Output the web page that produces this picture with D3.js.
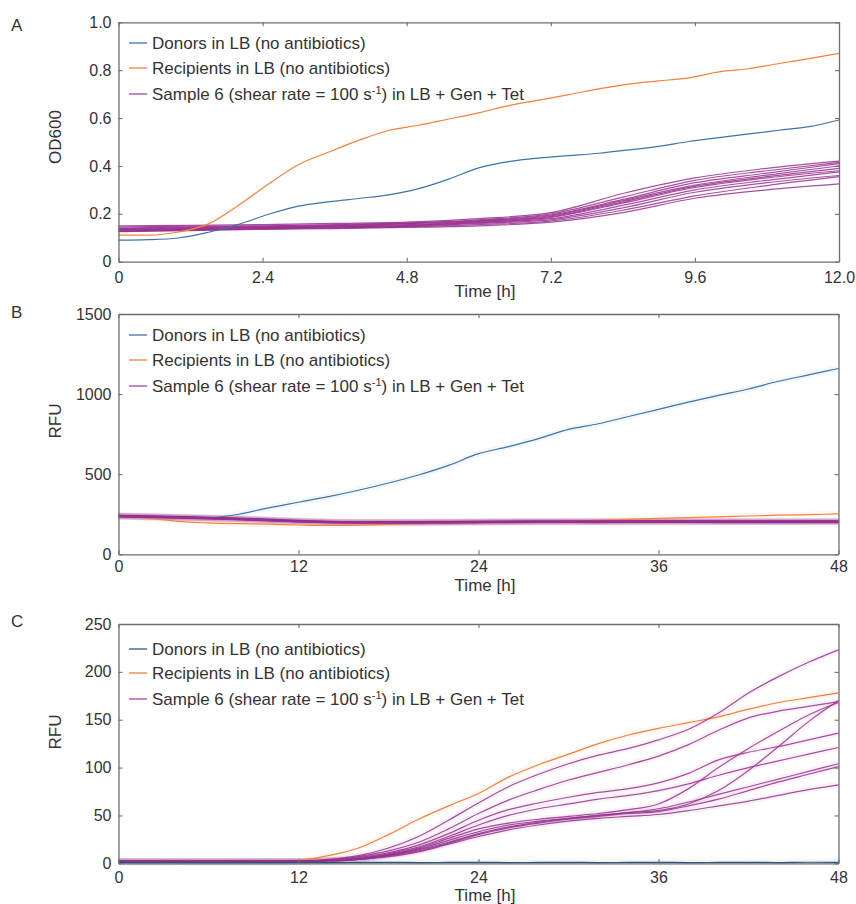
<!DOCTYPE html>
<html>
<head>
<meta charset="utf-8">
<script src="https://cdn.jsdelivr.net/npm/d3@7"></script>
<style>
  body { margin: 0; background: #fff; }
  svg { display: block; font-family: "Liberation Sans", Arial, Helvetica, sans-serif; }
</style>
</head>
<body>
<svg id="chart" width="856" height="904"></svg>
<script>
// ---------- Panel A: OD600 over 12 h ----------
const timeA = [0,0.5,1,1.5,2,2.5,3,3.5,4,4.5,5,5.5,6,6.5,7,7.5,8,8.5,9,9.5,10,10.5,11,11.5,12];
const donorsA = [0.090,0.092,0.099,0.123,0.156,0.198,0.232,0.250,0.264,0.279,0.305,0.345,0.392,0.418,0.433,0.443,0.453,0.467,0.482,0.502,0.518,0.534,0.549,0.564,0.592];
const recipientsA = [0.111,0.111,0.124,0.158,0.236,0.325,0.406,0.458,0.507,0.548,0.570,0.596,0.622,0.652,0.675,0.698,0.722,0.742,0.755,0.768,0.793,0.806,0.828,0.848,0.870];
const sampleTimeA = [0,1.2,2.4,3.6,4.8,6,7.2,8.4,9.6,10.8,12];
const samplesA = [
  [0.150,0.152,0.155,0.160,0.165,0.180,0.205,0.285,0.350,0.390,0.420],
  [0.145,0.148,0.150,0.155,0.162,0.175,0.200,0.270,0.340,0.380,0.415],
  [0.140,0.145,0.148,0.152,0.160,0.172,0.195,0.260,0.330,0.370,0.410],
  [0.138,0.142,0.146,0.150,0.158,0.170,0.192,0.255,0.320,0.362,0.400],
  [0.135,0.140,0.143,0.148,0.155,0.168,0.188,0.250,0.315,0.355,0.390],
  [0.133,0.138,0.142,0.146,0.152,0.165,0.185,0.245,0.310,0.350,0.380],
  [0.130,0.136,0.140,0.145,0.150,0.163,0.180,0.235,0.300,0.340,0.375],
  [0.128,0.134,0.138,0.142,0.148,0.160,0.175,0.225,0.290,0.330,0.360],
  [0.127,0.132,0.137,0.141,0.146,0.155,0.170,0.215,0.275,0.318,0.355],
  [0.125,0.130,0.135,0.138,0.143,0.150,0.165,0.205,0.265,0.300,0.325]
];
const xTicksA = [0,2.4,4.8,7.2,9.6,12];
const yTicksA = [0,0.2,0.4,0.6,0.8,1.0];

// ---------- Panel B: RFU (donor channel) over 48 h ----------
const timeB = [0,2,4,6,8,10,12,14,16,18,20,22,24,26,28,30,32,34,36,38,40,42,44,46,48];
const donorsB = [238,235,230,228,250,290,325,360,400,445,495,555,628,672,722,780,815,860,905,950,992,1032,1080,1120,1160];
const recipientsB = [240,225,205,196,191,188,183,180,182,187,192,195,198,200,203,207,212,218,224,229,234,239,244,248,252];
const sampleTimeB = [0,4,8,12,16,20,24,28,32,36,40,44,48];
const samplesB = [
  [244,236,226,212,204,204,206,208,208,209,209,209,209],
  [242,235,224,210,203,203,205,207,207,208,208,208,208],
  [241,233,223,209,202,202,204,206,206,207,207,206,207],
  [240,232,222,208,201,201,203,205,205,206,206,205,206],
  [239,231,221,207,200,200,202,204,204,205,204,204,205],
  [238,230,220,206,199,199,201,203,203,204,203,203,204],
  [237,229,219,205,198,198,200,202,202,202,202,202,203],
  [236,228,218,204,197,197,199,201,201,201,201,201,201],
  [235,227,217,203,196,196,198,200,199,200,200,200,200],
  [234,226,216,202,195,195,197,199,198,199,198,198,198]
];
const xTicksB = [0,12,24,36,48];
const yTicksB = [0,500,1000,1500];

// ---------- Panel C: RFU (transconjugant channel) over 48 h ----------
const timeC = [0,2,4,6,8,10,12,14,16,18,20,22,24,26,28,30,32,34,36,38,40,42,44,46,48];
const donorsC = [1.0,0.8,1.0,0.7,0.9,0.8,1.0,0.8,0.9,1.0,0.8,0.9,1.0,0.8,0.9,1.0,0.8,0.9,1.0,0.8,0.9,1.0,0.8,1.1,1.0];
const recipientsC = [2,2,2,2,1.5,2,3,8,16,30,46,60,73,90,103,114,125,134,141,147,153,161,168,173,178];
const sampleTimeC = [0,4,8,12,14,16,18,20,22,24,26,28,30,32,34,36,38,40,42,44,46,48];
const samplesC = [
  [2.5,2.5,2.5,2.5,4,8,16,28,45,63,80,93,104,113,120,129,140,157,178,195,210,223],
  [2.5,2,2.5,2,3,7,13,22,36,52,66,77,87,95,103,112,124,139,152,159,164,169],
  [2,2.5,2,2,3,6,11,19,31,45,56,63,69,74,78,84,94,108,116,122,129,136],
  [2,2,2,2.5,3,5,10,17,28,40,50,57,62,67,71,76,83,92,100,107,114,121],
  [2.5,2,2,2,3,5,9,16,26,36,42,46,49,52,56,62,78,100,120,138,155,168],
  [2,2,2.5,2,3,5,9,15,24,33,40,44,47,50,53,55,62,76,97,122,148,170],
  [2,2.5,2,2,3,4,8,14,22,31,38,43,47,50,53,57,64,72,80,88,96,104],
  [2,2,2,2,3,4,8,13,21,30,37,42,46,49,52,54,60,67,76,85,93,101],
  [2,2,2,2.5,2,4,7,12,20,28,35,40,44,47,49,51,55,60,65,71,77,82]
];
const xTicksC = [0,12,24,36,48];
const yTicksC = [0,50,100,150,200,250];

const legendLabels = ["Donors in LB (no antibiotics)", "Recipients in LB (no antibiotics)"];

// ---------- drawing ----------
const svg = d3.select("#chart");
const COL = { donor: "#3e74a8", donorDark: "#2a5583", recip: "#f7803c", sample: "#98308f", sampleKey: "#a444a4" };
const frameColor = "#6e6e6e", textColor = "#333";

function drawPanel(cfg) {
  const g = svg.append("g");
  const x = d3.scaleLinear().domain(cfg.xDomain).range([cfg.left, cfg.right]);
  const y = d3.scaleLinear().domain(cfg.yDomain).range([cfg.bottom, cfg.top]);

  const line = (tArr) => d3.line()
    .x((d, i) => x(tArr[i]))
    .y(d => y(d))
    .curve(d3.curveMonotoneX);

  const data = g.append("g");
  // faint halo beneath the traces
  if (cfg.halo) {
    cfg.series.forEach(s => {
      s.values.forEach(v => {
        data.append("path").attr("d", line(s.time)(v))
          .attr("fill", "none").attr("stroke", s.color)
          .attr("stroke-width", 6).attr("stroke-opacity", 0.06)
          .attr("stroke-linejoin", "round");
      });
    });
  }
  cfg.series.forEach(s => {
    s.values.forEach(v => {
      data.append("path").attr("d", line(s.time)(v))
        .attr("fill", "none").attr("stroke", s.color)
        .attr("stroke-width", s.width || 1.2)
        .attr("stroke-opacity", s.opacity || 1)
        .attr("stroke-linejoin", "round");
    });
  });

  // axes: ticks point inward on all four sides
  const styleAxis = (sel) => {
    sel.attr("font-family", null).attr("font-size", null);
    sel.select(".domain").attr("stroke", frameColor).attr("stroke-width", 1.3);
    sel.selectAll(".tick line").attr("stroke", frameColor).attr("stroke-width", 1.1);
    sel.selectAll(".tick text").attr("fill", textColor).style("font-size", "16px");
  };
  g.append("g").attr("transform", `translate(0,${cfg.bottom})`)
    .call(d3.axisBottom(x).tickValues(cfg.xTicks).tickSize(-4).tickSizeOuter(0)
      .tickPadding(cfg.xPad).tickFormat(cfg.xFmt))
    .call(styleAxis);
  g.append("g").attr("transform", `translate(0,${cfg.top})`)
    .call(d3.axisTop(x).tickValues(cfg.xTicks).tickSize(-4).tickSizeOuter(0).tickFormat(""))
    .call(styleAxis);
  g.append("g").attr("transform", `translate(${cfg.left},0)`)
    .call(d3.axisLeft(y).tickValues(cfg.yTicks).tickSize(-4).tickSizeOuter(0)
      .tickPadding(7).tickFormat(cfg.yFmt))
    .call(styleAxis);
  g.append("g").attr("transform", `translate(${cfg.right},0)`)
    .call(d3.axisRight(y).tickValues(cfg.yTicks).tickSize(-4).tickSizeOuter(0).tickFormat(""))
    .call(styleAxis);

  // axis titles and panel letter
  g.append("text").attr("x", 485).attr("y", cfg.bottom + cfg.titleOff)
    .attr("text-anchor", "middle").attr("dominant-baseline", "central")
    .attr("fill", textColor).style("font-size", "17px").text("Time [h]");
  g.append("text").attr("transform", `translate(55,${cfg.yLabelY}) rotate(-90)`)
    .attr("text-anchor", "middle").attr("dominant-baseline", "central")
    .attr("fill", textColor).style("font-size", "17px").text(cfg.yLabel);
  g.append("text").attr("x", 11).attr("y", cfg.letterY)
    .attr("fill", textColor).style("font-size", "17px").text(cfg.letter);

  // legend
  const keyColors = [cfg.donorKey, COL.recip, COL.sampleKey];
  cfg.legendY.forEach((ly, i) => {
    g.append("line").attr("x1", 129).attr("x2", 147).attr("y1", ly).attr("y2", ly)
      .attr("stroke", keyColors[i]).attr("stroke-width", 1.3);
    const t = g.append("text").attr("x", 152).attr("y", ly + 6)
      .attr("fill", textColor).style("font-size", "17px");
    if (i < 2) {
      t.text(legendLabels[i]);
    } else {
      t.append("tspan").text("Sample 6 (shear rate = 100 s");
      t.append("tspan").attr("dy", -6).style("font-size", "11px").text("-1");
      t.append("tspan").attr("dy", 6).text(") in LB + Gen + Tet");
    }
  });
}

const intFmt = d3.format("d");

drawPanel({
  letter: "A", letterY: 31, yLabel: "OD600", yLabelY: 137,
  left: 118.5, right: 839, top: 22.3, bottom: 261.7,
  xDomain: [0, 12], yDomain: [0, 1.0],
  xTicks: xTicksA, yTicks: yTicksA,
  xFmt: d => d === 0 ? "0" : d3.format(".1f")(d),
  yFmt: d => d === 0 ? "0" : d3.format(".1f")(d),
  xPad: 10, titleOff: 30,
  legendY: [43, 68, 94], donorKey: COL.donor, halo: false,
  series: [
    { time: sampleTimeA, values: samplesA, color: COL.sample, opacity: 0.85, width: 1.2 },
    { time: timeA, values: [donorsA], color: COL.donor },
    { time: timeA, values: [recipientsA], color: COL.recip }
  ]
});

drawPanel({
  letter: "B", letterY: 318, yLabel: "RFU", yLabelY: 421,
  left: 118.5, right: 838.5, top: 314, bottom: 554.3,
  xDomain: [0, 48], yDomain: [0, 1500],
  xTicks: xTicksB, yTicks: yTicksB, xFmt: intFmt, yFmt: intFmt,
  xPad: 6, titleOff: 31,
  legendY: [335, 360, 386], donorKey: COL.donor, halo: true,
  series: [
    { time: timeB, values: [donorsB], color: COL.donor },
    { time: timeB, values: [recipientsB], color: COL.recip },
    { time: sampleTimeB, values: samplesB, color: COL.sample, opacity: 0.85, width: 1.2 }
  ]
});

drawPanel({
  letter: "C", letterY: 627, yLabel: "RFU", yLabelY: 732,
  left: 118.5, right: 838.5, top: 624, bottom: 863.3,
  xDomain: [0, 48], yDomain: [0, 250],
  xTicks: xTicksC, yTicks: yTicksC, xFmt: intFmt, yFmt: intFmt,
  xPad: 8, titleOff: 32,
  legendY: [649, 673, 699], donorKey: COL.donorDark, halo: true,
  series: [
    { time: timeC, values: [recipientsC], color: COL.recip },
    { time: sampleTimeC, values: samplesC, color: COL.sample, opacity: 0.85, width: 1.2 },
    { time: timeC, values: [donorsC], color: COL.donorDark }
  ]
});
</script>
</body>
</html>
